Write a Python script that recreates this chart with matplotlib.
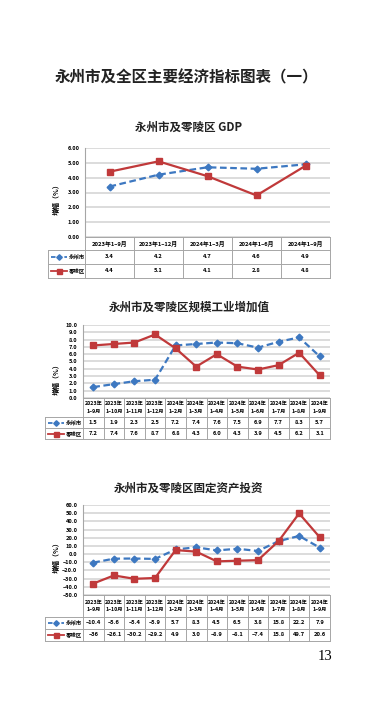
import matplotlib
matplotlib.use("Agg")
import matplotlib.pyplot as plt
from matplotlib.transforms import blended_transform_factory
import numpy as np

plt.rcParams['font.family'] = ['Noto Sans CJK SC', 'DejaVu Sans']

# ---------------- data ----------------
main_title = "永州市及全区主要经济指标图表（一）"
series_names = ["永州市", "零陵区"]

gdp_title = "永州市及零陵区 GDP"
gdp_cats = ["2023年1–9月", "2023年1–12月", "2024年1–3月", "2024年1–6月", "2024年1–9月"]
gdp_yz = [3.4, 4.2, 4.7, 4.6, 4.9]
gdp_ll = [4.4, 5.1, 4.1, 2.8, 4.8]

ind_title = "永州市及零陵区规模工业增加值"
ind_cats = ["2023年\n1–9月", "2023年\n1–10月", "2023年\n1–11月", "2023年\n1–12月",
            "2024年\n1–2月", "2024年\n1–3月", "2024年\n1–4月", "2024年\n1–5月",
            "2024年\n1–6月", "2024年\n1–7月", "2024年\n1–8月", "2024年\n1–9月"]
ind_yz = [1.5, 1.9, 2.3, 2.5, 7.2, 7.4, 7.6, 7.5, 6.9, 7.7, 8.3, 5.7]
ind_ll = [7.2, 7.4, 7.6, 8.7, 6.8, 4.3, 6.0, 4.3, 3.9, 4.5, 6.2, 3.1]

inv_title = "永州市及零陵区固定资产投资"
inv_cats = ind_cats
inv_yz = [-10.4, -5.6, -5.4, -5.9, 5.7, 8.3, 4.5, 6.5, 3.8, 15.8, 22.2, 7.9]
inv_ll = [-36, -26.1, -30.2, -29.2, 4.9, 3.0, -8.9, -8.1, -7.4, 15.8, 49.7, 20.6]
inv_ll_labels = ["–36", "–26.1", "–30.2", "–29.2", "4.9", "3.0", "–8.9", "–8.1", "–7.4", "15.8", "49.7", "20.6"]

page_number = "13"

# ---------------- style ----------------
W, H = 377, 718
BLUE = "#3D78C1"
RED = "#C0393A"
GRID = "#D9D9D9"
TBL = "#A6A6A6"

fig = plt.figure(figsize=(W / 100, H / 100), dpi=100)
overlay = fig.add_axes([0, 0, 1, 1])
overlay.set_xlim(0, W)
overlay.set_ylim(H, 0)
overlay.axis("off")


def draw_chart(cats, yz, ll, title, ylim, step, tickfmt, left, right, top, bottom,
               cat_h, row_h, title_y, ylab_y, leg_left, cat_fs, ll_labels=None):
    ax = fig.add_axes([left / W, 1 - bottom / H, (right - left) / W, (bottom - top) / H])
    ax.set_zorder(2)
    n = len(cats)
    x = np.arange(n)
    ax.set_xlim(-0.5, n - 0.5)
    ax.set_ylim(*ylim)
    ticks = np.arange(ylim[0], ylim[1] + step / 2, step)
    ax.set_yticks(ticks)
    ax.set_yticklabels([tickfmt.format(t).replace("-", "–") for t in ticks], fontsize=4.1,
                       fontweight="bold")
    ax.tick_params(axis="y", length=0, pad=4)
    ax.set_xticks([])
    ax.grid(axis="y", color=GRID, lw=1.3)
    ax.set_axisbelow(True)
    for s in ["top", "right", "bottom"]:
        ax.spines[s].set_visible(False)
    ax.spines["left"].set_color(TBL)
    ax.spines["left"].set_linewidth(0.8)
    ax.patch.set_alpha(0)

    ax.plot(x, yz, color=BLUE, lw=1.6, ls=(0, (3, 1.6)), marker="D", ms=3.4,
            mfc=BLUE, mec=BLUE, clip_on=False, zorder=3)
    ax.plot(x, ll, color=RED, lw=1.6, marker="s", ms=4.6,
            mfc=RED, mec=RED, clip_on=False, zorder=4)

    # titles
    overlay.text(189, title_y, title, ha="center", va="center", fontsize=8.3,
                 fontweight="bold", color="#222222")
    overlay.text(56, ylab_y, "增幅（%）", rotation=90, ha="center", va="center",
                 fontsize=5.0, fontweight="bold")

    # table
    tr = blended_transform_factory(ax.transData, overlay.transData)
    y0 = bottom
    y1 = bottom + cat_h
    y2 = y1 + row_h
    y3 = y2 + row_h
    kw = dict(color=TBL, lw=0.7, clip_on=False)
    overlay.plot([left, right], [y0, y0], **kw)
    overlay.plot([leg_left, right], [y1, y1], **kw)
    overlay.plot([leg_left, right], [y2, y2], **kw)
    overlay.plot([leg_left, right], [y3, y3], **kw)
    for i in range(n + 1):
        overlay.plot([i - 0.5, i - 0.5], [y0, y3], transform=tr, **kw)
    overlay.plot([leg_left, leg_left], [y1, y3], **kw)
    for i, c in enumerate(cats):
        overlay.text(i, (y0 + y1) / 2, c, transform=tr, ha="center", va="center",
                     fontsize=cat_fs, fontweight="bold", linespacing=1.55)
    yz_labels = [str(v).replace("-", "–") for v in yz]
    if ll_labels is None:
        ll_labels = [str(v).replace("-", "–") for v in ll]
    for i in range(n):
        overlay.text(i, (y1 + y2) / 2, yz_labels[i], transform=tr, ha="center",
                     va="center", fontsize=4.2, fontweight="bold")
        overlay.text(i, (y2 + y3) / 2, ll_labels[i], transform=tr, ha="center",
                     va="center", fontsize=4.2, fontweight="bold")
    # legend keys
    ka, kb = leg_left + 2.5, leg_left + 19
    km = (ka + kb) / 2
    tx = leg_left + 21
    ym = (y1 + y2) / 2
    overlay.plot([ka, kb], [ym, ym], color=BLUE, lw=1.3, ls=(0, (2.5, 1.2)))
    overlay.plot([km], [ym], color=BLUE, marker="D", ms=2.8)
    overlay.text(tx, ym, series_names[0], ha="left", va="center", fontsize=3.9,
                 fontweight="bold")
    ym = (y2 + y3) / 2
    overlay.plot([ka, kb], [ym, ym], color=RED, lw=1.3)
    overlay.plot([km], [ym], color=RED, marker="s", ms=3.6)
    overlay.text(tx, ym, series_names[1], ha="left", va="center", fontsize=3.9,
                 fontweight="bold")
    return ax


overlay.text(186, 77, main_title, ha="center", va="center", fontsize=11.2,
             fontweight="bold", color="#222222")

draw_chart(gdp_cats, gdp_yz, gdp_ll, gdp_title, (0, 6), 1, "{:.2f}",
           85, 330, 148, 237, 13, 14, 127, 198, 48, 4.2)
draw_chart(ind_cats, ind_yz, ind_ll, ind_title, (0, 10), 1, "{:.1f}",
           83, 330, 325, 398, 19, 11, 307, 378, 45, 3.8)
draw_chart(inv_cats, inv_yz, inv_ll, inv_title, (-50, 60), 10, "{:.1f}",
           83, 330, 505, 595, 22, 12, 488, 556, 45, 3.8, ll_labels=inv_ll_labels)

overlay.text(325, 656, page_number, ha="center", va="center", fontsize=10.5,
             family=["Liberation Serif", "DejaVu Serif"])

fig.savefig("out.png", dpi=100, facecolor="white")
